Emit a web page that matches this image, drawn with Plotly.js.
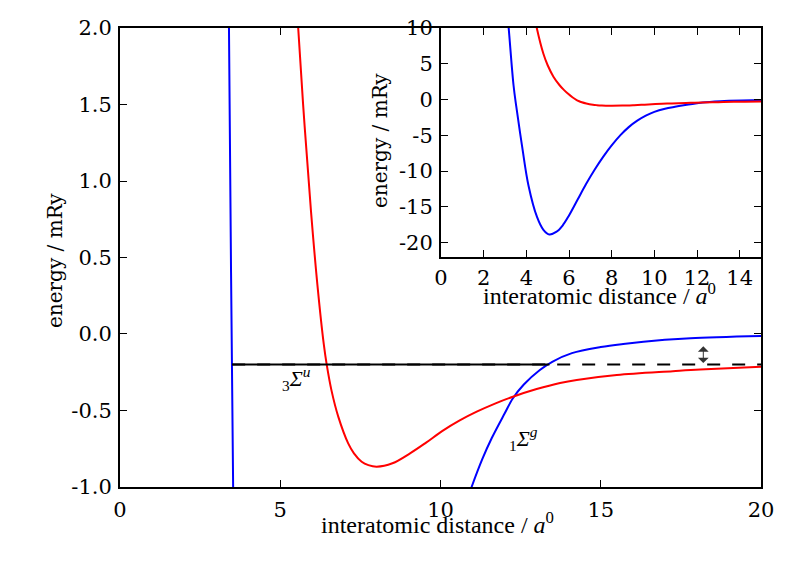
<!DOCTYPE html>
<html>
<head>
<meta charset="utf-8">
<script src="https://cdn.plot.ly/plotly-3.0.1.min.js"></script>
<style>html,body{margin:0;padding:0;background:#fff;}#chart{width:800px;height:573px;}</style>
</head>
<body>
<div id="chart"></div>
<script>
// singlet (blue) potential, energy in mRy vs distance in a0
const blueX = [3.13, 3.20, 3.40, 3.53, 3.80, 4.10, 4.50, 4.80, 5.08, 5.40, 5.70, 6.00, 6.40, 6.80, 7.20, 7.60, 8.00, 8.40, 8.80, 9.20, 9.60, 10.00, 10.50, 10.97, 11.30, 11.60, 12.00, 12.26, 12.60, 13.10, 13.50, 14.10, 15.00, 15.70, 17.00, 17.80, 20.00];
const blueY = [11.5, 9.0, 2.0, -1.0, -6.5, -12.0, -16.4, -18.2, -18.85, -18.5, -17.6, -16.2, -14.0, -11.8, -9.8, -8.0, -6.4, -5.0, -3.85, -2.95, -2.25, -1.72, -1.28, -1.0, -0.82, -0.68, -0.52, -0.42, -0.33, -0.235, -0.18, -0.125, -0.085, -0.065, -0.038, -0.027, -0.013];
// triplet (red) potential
const redX = [4.30, 4.49, 4.80, 5.00, 5.27, 5.56, 5.76, 5.96, 6.16, 6.36, 6.45, 6.60, 6.81, 7.12, 7.30, 7.54, 7.75, 8.01, 8.50, 9.05, 9.55, 10.05, 10.60, 11.13, 11.70, 12.26, 13.00, 13.73, 14.25, 15.50, 17.25, 18.10, 20.00];
const redY = [13.0, 10.0, 6.4, 4.8, 3.2, 2.0, 1.36, 0.80, 0.32, -0.07, -0.20, -0.37, -0.54, -0.715, -0.78, -0.835, -0.857, -0.867, -0.845, -0.78, -0.71, -0.635, -0.565, -0.508, -0.455, -0.41, -0.36, -0.32, -0.30, -0.268, -0.243, -0.232, -0.214];
// horizontal energy level
const levelY = -0.2;
const levelSolidX = [3.5, 13.4];
const levelDashX = [3.5, 20];
// arrow between level and blue asymptote
const arrowX = 18.2;
const arrowTop = -0.08;

// ticks
const mainXTicks = [0, 5, 10, 15, 20];
const mainYTicks = [-1.0, -0.5, 0.0, 0.5, 1.0, 1.5, 2.0];
const mainYText = ["-1.0", "-0.5", "0.0", "0.5", "1.0", "1.5", "2.0"];
const insetXTicks = [0, 2, 4, 6, 8, 10, 12, 14];
const insetYTicks = [-20, -15, -10, -5, 0, 5, 10];
const insetYText = ["-20", "-15", "-10", "-5", "0", "5", "10"];

const serif = "DejaVu Serif";
const cm = "Liberation Serif";

const axisBase = {
  showline: true, mirror: 'ticks', linecolor: '#000', linewidth: 2,
  ticks: 'inside', ticklen: 7, tickwidth: 1, tickcolor: '#000',
  showgrid: false, zeroline: false,
  tickfont: {family: serif, size: 21, color: '#000'}
};

const lineStyle = (c) => ({color: c, width: 2, shape: 'spline', smoothing: 1.0});

const traces = [
  {x: blueX, y: blueY, xaxis: 'x', yaxis: 'y', mode: 'lines', line: lineStyle('#0000ff'), hoverinfo: 'skip'},
  {x: redX, y: redY, xaxis: 'x', yaxis: 'y', mode: 'lines', line: lineStyle('#ff0000'), hoverinfo: 'skip'},
  {x: levelSolidX, y: levelSolidX.map(() => levelY), xaxis: 'x', yaxis: 'y', mode: 'lines', line: {color: '#000', width: 2}, hoverinfo: 'skip'},
  {x: levelDashX, y: levelDashX.map(() => levelY), xaxis: 'x', yaxis: 'y', mode: 'lines', line: {color: '#000', width: 2, dash: '13px,12px'}, hoverinfo: 'skip'},
  {x: blueX, y: blueY, xaxis: 'x2', yaxis: 'y2', mode: 'lines', line: lineStyle('#0000ff'), hoverinfo: 'skip'},
  {x: redX, y: redY, xaxis: 'x2', yaxis: 'y2', mode: 'lines', line: lineStyle('#ff0000'), hoverinfo: 'skip'}
];

const layout = {
  width: 800, height: 573,
  margin: {l: 0, r: 0, t: 0, b: 0},
  paper_bgcolor: '#fff', plot_bgcolor: '#fff',
  showlegend: false,
  xaxis: Object.assign({}, axisBase, {domain: [0.15, 0.95125], range: [0, 20], tickvals: mainXTicks, ticktext: mainXTicks.map(String), anchor: 'y', ticklabelstandoff: 3}),
  yaxis: Object.assign({}, axisBase, {domain: [0.1501, 0.9511], range: [-1.0, 2.0], tickvals: mainYTicks, ticktext: mainYText, anchor: 'x', ticklabelstandoff: 2}),
  xaxis2: Object.assign({}, axisBase, {domain: [0.55125, 0.95125], range: [0, 15], tickvals: insetXTicks, ticktext: insetXTicks.map(String), anchor: 'y2', ticklabelstandoff: 1}),
  yaxis2: Object.assign({}, axisBase, {domain: [0.5515, 0.9511], range: [-22, 10], tickvals: insetYTicks, ticktext: insetYText, anchor: 'x2', ticklabelstandoff: 2}),
  annotations: [
    {xref: 'paper', yref: 'paper', x: 437/800, y: 1 - 523/573, text: 'interatomic distance / <i>a</i><sup>0</sup>', showarrow: false, font: {family: cm, size: 24, color: '#000'}, xanchor: 'center', yanchor: 'middle'},
    {xref: 'paper', yref: 'paper', x: 55/800, y: 1 - 261/573, text: 'energy / mRy', textangle: -90, showarrow: false, font: {family: serif, size: 20, color: '#000'}, xanchor: 'center', yanchor: 'middle'},
    {xref: 'paper', yref: 'paper', x: 599/800, y: 1 - 294/573, text: 'interatomic distance / <i>a</i><sup>0</sup>', showarrow: false, font: {family: cm, size: 24, color: '#000'}, xanchor: 'center', yanchor: 'middle'},
    {xref: 'paper', yref: 'paper', x: 380/800, y: 1 - 141/573, text: 'energy / mRy', textangle: -90, showarrow: false, font: {family: serif, size: 20, color: '#000'}, xanchor: 'center', yanchor: 'middle'},
    {xref: 'x', yref: 'y', x: 5.5, y: -0.29, text: '<sub>3</sub><i>Σ</i><sup><i>u</i></sup>', showarrow: false, font: {family: cm, size: 22, color: '#000'}, xanchor: 'center', yanchor: 'middle'},
    {xref: 'x', yref: 'y', x: 12.6, y: -0.68, text: '<sub>1</sub><i>Σ</i><sup><i>g</i></sup>', showarrow: false, font: {family: cm, size: 22, color: '#000'}, xanchor: 'center', yanchor: 'middle'},
    {xref: 'x', yref: 'y', axref: 'x', ayref: 'y', x: arrowX, y: arrowTop, ax: arrowX, ay: levelY, text: '', showarrow: true, arrowside: 'end+start', arrowhead: 1, arrowsize: 1.8, arrowwidth: 1, arrowcolor: '#333'}
  ]
};

Plotly.newPlot('chart', traces, layout, {staticPlot: true, displayModeBar: false});
</script>
</body>
</html>
